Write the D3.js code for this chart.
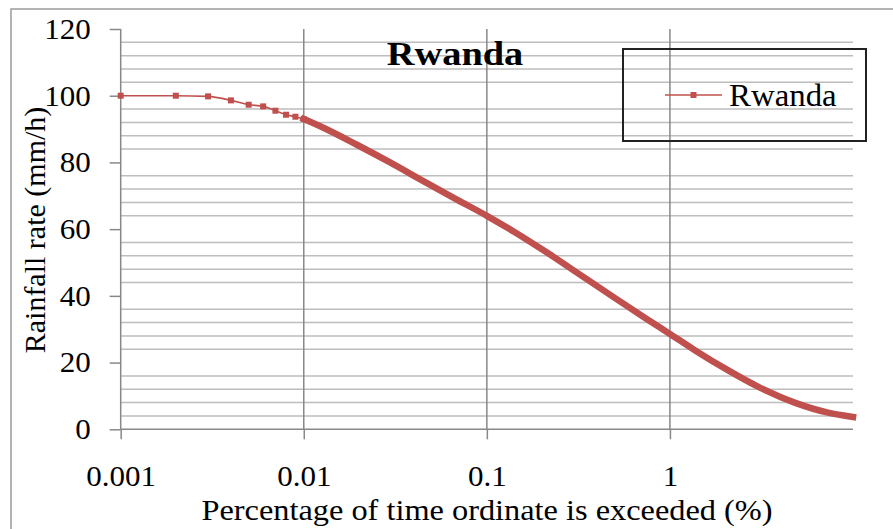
<!DOCTYPE html>
<html>
<head>
<meta charset="utf-8">
<script src="https://cdn.jsdelivr.net/npm/d3@7/dist/d3.min.js"></script>
<style>
  html, body { margin: 0; padding: 0; background: #fff; }
  svg { display: block; }
  text { font-family: "Liberation Serif", "Times New Roman", serif; fill: #000; }
</style>
</head>
<body>
<svg id="chart" width="893" height="529"></svg>
<script>
// Rainfall rate exceeded for a given percentage of time, Rwanda
const percentTime = [0.001, 0.002, 0.003, 0.004, 0.005, 0.006, 0.007, 0.008, 0.009, 0.01,
  0.0128, 0.0195, 0.0296, 0.045, 0.069, 0.1, 0.14, 0.21, 0.33, 0.49, 0.75, 1,
  1.36, 2.06, 3.1, 4.8, 7.3, 10];
const rainfallRate = [100, 100, 99.8, 98.6, 97.3, 96.8, 95.5, 94.3, 93.7, 93.0,
  90.4, 85.3, 80.0, 74.4, 68.8, 64.0, 59.3, 53.2, 46.0, 39.7, 33.0, 28.6,
  23.8, 17.8, 12.5, 8.0, 5.0, 3.7];

const seriesName = "Rwanda";
const chartTitle = "Rwanda";
const xTickValues = [0.001, 0.01, 0.1, 1];
const xTickLabels = ["0.001", "0.01", "0.1", "1"];
const yTickValues = [0, 20, 40, 60, 80, 100, 120];
const yMinorStep = 4;
const xTitle = "Percentage of time ordinate is exceeded (%)";
const yTitle = "Rainfall rate (mm/h)";

const svg = d3.select("#chart");
const lineColor = "#C0504D";

// widen a text horizontally around its own anchor point
function stretch(sel, k) {
  sel.each(function () {
    const t = d3.select(this);
    const tx = +t.attr("x") || 0;
    t.attr("x", 0).attr("transform", `translate(${tx},0) scale(${k},1)`);
  });
}

// outer chart frame
svg.append("rect")
  .attr("x", 11).attr("y", 9)
  .attr("width", 1000).attr("height", 1000)
  .attr("fill", "none").attr("stroke", "#9a9a9a").attr("stroke-width", 1.5);

const x = d3.scaleLog().domain([0.001, 10]).range([120.7, 853]);
const y = d3.scaleLinear().domain([0, 120]).range([429.3, 29]);

// horizontal minor gridlines (every 4 mm/h, skipping the labelled steps)
const minorVals = d3.range(yMinorStep, 120, yMinorStep).filter(v => v % 20 !== 0);
svg.append("g").selectAll("line").data(minorVals).join("line")
  .attr("x1", x(0.001)).attr("x2", x(10))
  .attr("y1", d => y(d)).attr("y2", d => y(d))
  .attr("stroke", "#bdbdbd").attr("stroke-width", 1.5);

// vertical decade gridlines
svg.append("g").selectAll("line").data(xTickValues.slice(1)).join("line")
  .attr("x1", d => x(d)).attr("x2", d => x(d))
  .attr("y1", y(120)).attr("y2", y(0))
  .attr("stroke", "#888").attr("stroke-width", 1.5);

// axes
const xAxis = d3.axisBottom(x)
  .tickValues(xTickValues)
  .tickFormat((d, i) => xTickLabels[i])
  .tickSize(10).tickPadding(26);
const gx = svg.append("g").attr("transform", `translate(0,${y(0)})`).call(xAxis);
gx.select(".domain").attr("stroke", "#888").attr("stroke-width", 1.5)
  .attr("d", `M${x(0.001)},0H${x(10)}`);
gx.selectAll(".tick line").attr("stroke", "#888").attr("stroke-width", 1.5);
gx.selectAll(".tick text").attr("font-size", 29).attr("font-family", "Liberation Serif").attr("fill", "#000")
  .call(stretch, 1.07);

const yAxis = d3.axisLeft(y)
  .tickValues(yTickValues)
  .tickSize(11).tickPadding(19);
const gy = svg.append("g").attr("transform", `translate(${x(0.001)},0)`).call(yAxis);
gy.select(".domain").attr("stroke", "#888").attr("stroke-width", 1.5)
  .attr("d", `M0,${y(120)}V${y(0)}`);
gy.selectAll(".tick line").attr("stroke", "#888").attr("stroke-width", 1.5);
gy.selectAll(".tick text").attr("font-size", 29).attr("font-family", "Liberation Serif").attr("fill", "#000")
  .call(stretch, 1.07);

// series
const pts = percentTime.map((p, i) => [p, rainfallRate[i]]);
const line = d3.line().x(d => x(d[0])).y(d => y(d[1])).curve(d3.curveMonotoneX);

svg.append("path").datum(pts).attr("d", line)
  .attr("fill", "none").attr("stroke", lineColor).attr("stroke-width", 1.6);

// beyond 0.01 % the markers sit closer than their own width and merge into a band
const dense = pts.filter(d => d[0] >= 0.01);
svg.append("path").datum(dense).attr("d", line)
  .attr("fill", "none").attr("stroke", lineColor).attr("stroke-width", 6.5)
  .attr("stroke-linecap", "square");

const ms = 6;
svg.append("g").selectAll("rect").data(pts.filter(d => d[0] <= 0.01)).join("rect")
  .attr("x", d => x(d[0]) - ms / 2).attr("y", d => y(d[1]) - ms / 2)
  .attr("width", ms).attr("height", ms).attr("fill", lineColor);

// chart title
svg.append("text").attr("x", 455).attr("y", 65)
  .attr("text-anchor", "middle").attr("font-size", 34).attr("font-weight", "bold")
  .text(chartTitle).call(stretch, 1.13);

// axis titles
svg.append("text").attr("x", 487).attr("y", 520)
  .attr("text-anchor", "middle").attr("font-size", 30).text(xTitle)
  .call(stretch, 1.078);
svg.append("text").attr("transform", "translate(45,230) rotate(-90)")
  .attr("text-anchor", "middle").attr("font-size", 30).text(yTitle);

// legend
const lg = svg.append("g");
lg.append("rect").attr("x", 623).attr("y", 49).attr("width", 243).attr("height", 92)
  .attr("fill", "none").attr("stroke", "#222").attr("stroke-width", 2);
lg.append("line").attr("x1", 665).attr("x2", 722).attr("y1", 95).attr("y2", 95)
  .attr("stroke", lineColor).attr("stroke-width", 1.6);
lg.append("rect").attr("x", 693.5 - ms / 2).attr("y", 95 - ms / 2)
  .attr("width", ms).attr("height", ms).attr("fill", lineColor);
lg.append("text").attr("x", 729).attr("y", 106).attr("font-size", 31).text(seriesName)
  .call(stretch, 1.06);
</script>
</body>
</html>
